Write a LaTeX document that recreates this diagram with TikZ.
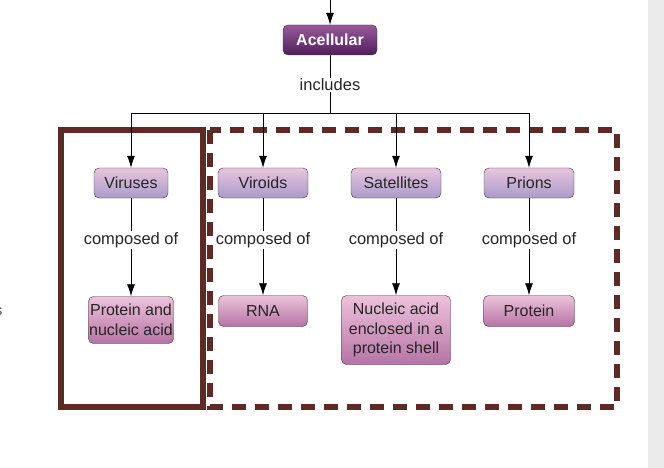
\documentclass[tikz,border=0pt]{standalone}
\usepackage{fontspec}
\setmainfont{Liberation Sans}
\usetikzlibrary{arrows.meta}
\definecolor{boxc}{HTML}{5E2A26}
\definecolor{tA}{HTML}{E8C5DF}\definecolor{tB}{HTML}{A99BC9}
\definecolor{bA}{HTML}{EDC2DC}\definecolor{bB}{HTML}{B574A4}
\definecolor{aA}{HTML}{9A5A9C}\definecolor{aB}{HTML}{4F1F5A}
\begin{document}
\begin{tikzpicture}[x=1pt,y=-1pt,
 base/.style={draw=black!80,rounded corners=5pt,align=center,inner sep=0pt,font=\fontsize{16}{19.5}\selectfont,text=black!85},
 top/.style={base,top color=tA,bottom color=tB,minimum height=30pt},
 bot/.style={base,top color=bA,bottom color=bB},
 lab/.style={font=\fontsize{16.5}{18}\selectfont,text=black!85,fill=white,inner sep=1pt},
 arr/.style={-{Latex[length=12pt,width=8pt]},line width=0.8pt},
 ln/.style={line width=0.8pt},
 box/.style={draw=boxc,line width=6pt}]
\useasboundingbox (0,0) rectangle (664,468);
\fill[black!8] (648,0) rectangle (664,468);
\node[font=\fontsize{15}{17}\selectfont,text=black!70,anchor=east] (s) at (6,312) {s};
\coordinate (start) at (330,0);
\node[base,top color=aA,bottom color=aB,text=white,font=\bfseries\fontsize{16}{18}\selectfont,minimum width=94pt,minimum height=30pt] (ac) at (330,40) {Acellular};
\draw[arr] (start) -- (ac);
\node[lab] (inc) at (330,85) {includes};
\draw[ln] (ac) -- (inc);
\coordinate (j) at (330,113);
\draw[ln] (inc) -- (j);
\draw[box] (61,130) rectangle (203,407);
\draw[box,dash pattern=on 14pt off 9pt] (210,130) rectangle (617,407);
\node[top,minimum width=74pt] (t1) at (131,183) {Viruses};
\node[top,minimum width=90pt] (t2) at (263,183) {Viroids};
\node[top,minimum width=90pt] (t3) at (396,183) {Satellites};
\node[top,minimum width=90pt] (t4) at (529,183) {Prions};
\node[bot,minimum width=85pt,minimum height=47pt] (b1) at (131,320) {Protein and\\nucleic acid};
\node[bot,minimum width=89pt,minimum height=31pt] (b2) at (263,311) {RNA};
\node[bot,minimum width=109pt,minimum height=69pt] (b3) at (396,330) {Nucleic acid\\enclosed in a\\protein shell};
\node[bot,minimum width=91pt,minimum height=31pt] (b4) at (529,311) {Protein};
\foreach \i/\x in {1/131,2/263,3/396,4/529}{
  \coordinate (h\i) at (\x,113);
  \node[lab] (c\i) at (\x,240) {composed of};
  \draw[arr] (h\i) -- (t\i);
  \draw[ln] (t\i) -- (c\i);
  \draw[arr] (c\i) -- (b\i);
}
\draw[ln] (h1) -- (h4);
\end{tikzpicture}
\end{document}
